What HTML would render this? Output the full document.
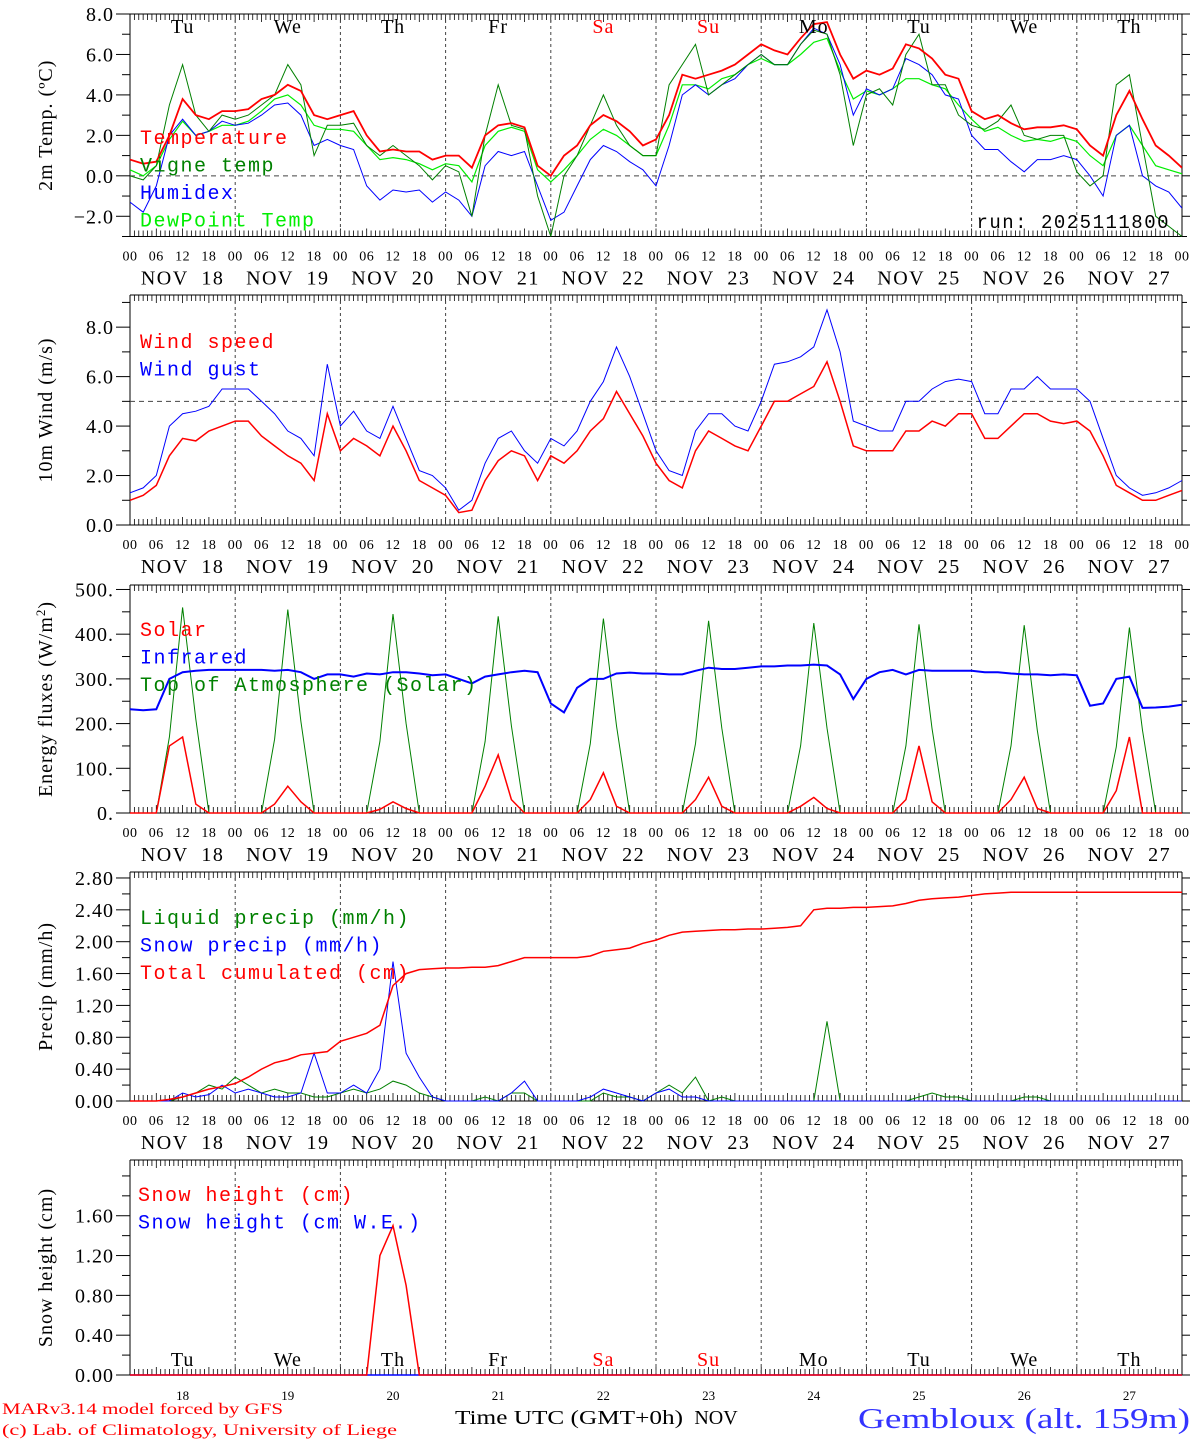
<!DOCTYPE html>
<html><head><meta charset="utf-8"><style>
body{margin:0;background:#fff}
svg{display:block}
text{font-family:"Liberation Serif",serif}
.mono{font-family:"Liberation Mono",monospace;letter-spacing:1.5px}
.pre{white-space:pre}
</style></head><body>
<svg id="c" width="1194" height="1440" viewBox="0 0 1194 1440" xmlns="http://www.w3.org/2000/svg"></svg>
<script>
// ---- data: 3-hourly values, 18 Nov 00 UTC to 28 Nov 00 UTC (81 pts)
const days=["18","19","20","21","22","23","24","25","26","27"];
const weekdays=["Tu","We","Th","Fr","Sa","Su","Mo","Tu","We","Th"];
const hourLabels=["00","06","12","18"];
const tempTicks=[-2,0,2,4,6,8];
const windTicks=[0,2,4,6,8];
const energyTicks=[0,100,200,300,400,500];
const precipTicks=[0,0.4,0.8,1.2,1.6,2.0,2.4,2.8];
const snowTicks=[0,0.4,0.8,1.2,1.6];
const temperature=[0.8,0.6,0.7,2.0,3.8,3.0,2.8,3.2, 3.2,3.3,3.8,4.0,4.5,4.2,3.0,2.8, 3.0,3.2,2.0,1.2,1.3,1.2,1.2,0.8, 1.0,1.0,0.4,2.0,2.5,2.6,2.4,0.5, 0.0,1.0,1.5,2.5,3.0,2.7,2.2,1.5, 1.8,3.0,5.0,4.8,5.0,5.2,5.5,6.0, 6.5,6.2,6.0,6.8,7.5,7.6,6.0,4.8, 5.2,5.0,5.3,6.5,6.3,5.8,5.0,4.8, 3.2,2.8,3.0,2.6,2.3,2.4,2.4,2.5, 2.3,1.5,1.0,3.0,4.2,2.8,1.5,1.0,0.4];
const vigne=[0.0,-0.2,0.5,3.5,5.5,3.0,2.2,3.0, 2.8,3.0,3.5,4.0,5.5,4.5,1.0,2.5, 2.5,2.6,1.5,1.0,1.5,1.0,0.5,-0.2, 0.5,0.2,-2.0,2.0,4.5,2.5,2.3,-1.0, -3.0,0.0,1.0,2.5,4.0,2.5,1.5,1.0, 1.0,4.5,5.5,6.5,4.0,4.5,5.0,5.5, 6.0,5.5,5.5,6.5,7.2,7.0,5.0,1.5, 4.0,4.3,3.5,6.0,7.0,4.5,4.5,3.0, 2.5,2.3,2.7,3.5,2.0,1.8,2.0,2.0, 0.2,-0.5,0.0,4.5,5.0,1.5,-2.0,-2.5,-3.0];
const humidex=[-1.3,-1.8,-0.5,2.0,2.8,2.0,2.2,2.7, 2.5,2.6,3.0,3.5,3.6,3.0,1.5,1.8, 1.5,1.3,-0.5,-1.2,-0.7,-0.8,-0.7,-1.3, -0.8,-1.2,-2.0,0.5,1.2,1.0,1.2,-0.5, -2.2,-1.8,-0.5,0.8,1.5,1.2,0.7,0.3, -0.5,1.5,4.0,4.5,4.0,4.5,4.8,5.5, 6.0,5.5,5.5,6.5,7.3,7.0,5.5,3.0, 4.3,4.0,4.3,5.8,5.5,5.0,4.0,3.8, 2.0,1.3,1.3,0.7,0.2,0.8,0.8,1.0, 0.8,0.0,-1.0,2.0,2.5,0.0,-0.5,-0.8,-1.6];
const dewpoint=[0.3,0.0,0.5,1.8,2.7,2.0,2.2,2.5, 2.5,2.7,3.2,3.8,4.0,3.5,2.5,2.3, 2.3,2.2,1.5,0.8,0.9,0.8,0.6,0.3, 0.6,0.5,-0.3,1.5,2.2,2.4,2.2,0.3, -0.3,0.3,1.0,1.8,2.3,2.0,1.5,1.0, 1.0,2.5,4.5,4.5,4.3,4.8,5.0,5.5, 5.8,5.5,5.5,6.0,6.6,6.8,5.2,3.8, 4.2,4.0,4.3,4.8,4.8,4.5,4.3,3.5, 2.8,2.2,2.4,2.0,1.7,1.8,1.7,1.9, 1.7,1.0,0.5,2.0,2.5,1.5,0.5,0.3,0.1];
const windSpeed=[1.0,1.2,1.6,2.8,3.5,3.4,3.8,4.0, 4.2,4.2,3.6,3.2,2.8,2.5,1.8,4.5, 3.0,3.5,3.2,2.8,4.0,3.0,1.8,1.5, 1.2,0.5,0.6,1.8,2.6,3.0,2.8,1.8, 2.8,2.5,3.0,3.8,4.3,5.4,4.5,3.6, 2.5,1.8,1.5,3.0,3.8,3.5,3.2,3.0, 4.0,5.0,5.0,5.3,5.6,6.6,5.0,3.2, 3.0,3.0,3.0,3.8,3.8,4.2,4.0,4.5, 4.5,3.5,3.5,4.0,4.5,4.5,4.2,4.1, 4.2,3.8,2.8,1.6,1.3,1.0,1.0,1.2,1.4];
const windGust=[1.3,1.5,2.0,4.0,4.5,4.6,4.8,5.5, 5.5,5.5,5.0,4.5,3.8,3.5,2.8,6.5, 4.0,4.6,3.8,3.5,4.8,3.5,2.2,2.0, 1.5,0.6,1.0,2.5,3.5,3.8,3.0,2.5, 3.5,3.2,3.8,5.0,5.8,7.2,6.0,4.5, 3.0,2.2,2.0,3.8,4.5,4.5,4.0,3.8, 5.0,6.5,6.6,6.8,7.2,8.7,7.0,4.2, 4.0,3.8,3.8,5.0,5.0,5.5,5.8,5.9, 5.8,4.5,4.5,5.5,5.5,6.0,5.5,5.5, 5.5,5.0,3.5,2.0,1.5,1.2,1.3,1.5,1.8];
const solar=[0,0,0,150,170,20,0,0, 0,0,0,20,60,25,0,0, 0,0,0,8,25,10,0,0, 0,0,0,60,130,30,0,0, 0,0,0,30,90,15,0,0, 0,0,0,30,80,15,0,0, 0,0,0,15,35,10,0,0, 0,0,0,30,150,25,0,0, 0,0,0,30,80,10,0,0, 0,0,0,50,170,0,0,0,0];
const infrared=[232,230,232,300,315,318,320,320, 320,320,320,318,320,315,300,310, 310,305,312,310,315,315,312,308, 310,300,290,305,310,315,318,315, 245,225,280,300,300,312,314,312, 312,310,310,318,325,322,322,325, 328,328,330,330,332,330,310,255, 300,315,320,310,320,318,318,318, 318,315,315,312,310,310,308,310, 308,240,245,300,305,235,236,238,242];
const toaSolar=[0,0,0,170,460,210,0,0, 0,0,0,165,455,205,0,0, 0,0,0,160,445,200,0,0, 0,0,0,160,440,195,0,0, 0,0,0,155,435,195,0,0, 0,0,0,155,430,190,0,0, 0,0,0,150,425,190,0,0, 0,0,0,150,422,188,0,0, 0,0,0,150,420,185,0,0, 0,0,0,148,415,185,0,0,0];
const liquidPrecip=[0,0,0,0,0.05,0.1,0.2,0.15, 0.3,0.2,0.1,0.15,0.1,0.1,0.05,0.05, 0.1,0.15,0.1,0.15,0.25,0.2,0.1,0.05, 0,0,0,0.05,0,0.1,0.1,0, 0,0,0,0,0.1,0.05,0.05,0, 0.1,0.2,0.1,0.3,0,0.05,0,0, 0,0,0,0,0,1.0,0,0, 0,0,0,0,0.05,0.1,0.05,0.05, 0,0,0,0,0.05,0.05,0,0, 0,0,0,0,0,0,0,0,0];
const snowPrecip=[0,0,0,0,0.1,0.05,0.08,0.2, 0.1,0.15,0.1,0.05,0.05,0.1,0.6,0.1, 0.1,0.2,0.1,0.4,1.75,0.6,0.3,0.05, 0,0,0,0,0,0.1,0.25,0, 0,0,0,0.05,0.15,0.1,0.05,0, 0.1,0.15,0.05,0.05,0,0,0,0, 0,0,0,0,0,0,0,0, 0,0,0,0,0,0,0,0, 0,0,0,0,0,0,0,0, 0,0,0,0,0,0,0,0,0];
const totalCum=[0,0,0,0.02,0.05,0.1,0.15,0.18, 0.22,0.3,0.4,0.48,0.52,0.58,0.6,0.62, 0.75,0.8,0.85,0.95,1.45,1.6,1.65,1.66, 1.67,1.67,1.68,1.68,1.7,1.75,1.8,1.8, 1.8,1.8,1.8,1.82,1.88,1.9,1.92,1.98, 2.02,2.08,2.12,2.13,2.14,2.15,2.15,2.16, 2.16,2.17,2.18,2.2,2.4,2.42,2.42,2.43, 2.43,2.44,2.45,2.48,2.52,2.54,2.55,2.56, 2.58,2.6,2.61,2.62,2.62,2.62,2.62,2.62, 2.62,2.62,2.62,2.62,2.62,2.62,2.62,2.62,2.62];
const snowHeight=[0,0,0,0,0,0,0,0, 0,0,0,0,0,0,0,0, 0,0,0,1.2,1.5,0.9,0,0, 0,0,0,0,0,0,0,0, 0,0,0,0,0,0,0,0, 0,0,0,0,0,0,0,0, 0,0,0,0,0,0,0,0, 0,0,0,0,0,0,0,0, 0,0,0,0,0,0,0,0, 0,0,0,0,0,0,0,0,0];
const snowHeightWE=new Array(81).fill(0);

const svg=document.getElementById('c');
const NS="http://www.w3.org/2000/svg";
const X0=130,X1=1182;
const xs=i=>X0+i*(X1-X0)/80;
const xh=h=>X0+h*(X1-X0)/240;
function el(tag,attrs,parent){const e=document.createElementNS(NS,tag);for(const k in attrs)e.setAttribute(k,attrs[k]);(parent||svg).appendChild(e);return e;}
function txt(s,x,y,size,fill,anchor,cls,parent){const t=el('text',{x:x,y:y,'font-size':size,fill:fill||'#000','text-anchor':anchor||'start'},parent);if(cls)t.setAttribute('class',cls);t.textContent=s;return t;}

function panel(name,top,bot,min,max,ticks,fmt,title,hourLbl){
  const g=el('g',{});
  
  
  const y=v=>bot-(v-min)/(max-min)*(bot-top);
  el('line',{x1:X0,y1:top,x2:X1,y2:top,stroke:'#000'},g);
  el('line',{x1:X0,y1:bot,x2:X1,y2:bot,stroke:'#000'},g);
  el('line',{x1:X0,y1:top,x2:X0,y2:bot,stroke:'#000'},g);
  el('line',{x1:X1,y1:top,x2:X1,y2:bot,stroke:'#000'},g);
  for(let h=0;h<=240;h++){const x=xh(h);const L=h%6==0?8:6;
    el('line',{x1:x,y1:bot,x2:x,y2:bot-L,stroke:'#000','stroke-width':0.8},g);
    el('line',{x1:x,y1:top,x2:x,y2:top+L,stroke:'#000','stroke-width':0.8},g);}
  for(let d=1;d<10;d++){const x=xh(d*24);el('line',{x1:x,y1:top,x2:x,y2:bot,stroke:'#444','stroke-dasharray':'3,3'},g);}
  const step=ticks[1]-ticks[0];
  for(let v=ticks[0]-step;v<=max+1e-6;v+=step/2){if(v<min-1e-6)continue;const yy=y(v);const major=ticks.some(t=>Math.abs(t-v)<1e-6);
    el('line',{x1:X0-(major?14:8),y1:yy,x2:X0,y2:yy,stroke:'#000'},g);
    el('line',{x1:X1,y1:yy,x2:X1+(major?8:5),y2:yy,stroke:'#000'},g);}
  ticks.forEach(t=>{const tt=txt(fmt(t),114,y(t)+7,20,'#000','end',null,g);tt.setAttribute('letter-spacing','1');});
  const yt=txt('',0,0,20,'#000','middle',null,g);yt.innerHTML=title;
  yt.setAttribute('letter-spacing','1');
  yt.setAttribute('transform',`translate(52,${(top+bot)/2}) rotate(-90)`);
  
  
  if(hourLbl){
    for(let d=0;d<=10;d++)for(let k=0;k<4;k++){if(d==10&&k>0)break;const t=txt(hourLabels[k],xh(d*24+k*6),bot+24,14,'#000','middle',null,g);t.setAttribute('letter-spacing','0.5');}
    days.forEach((dd,i)=>{const t=txt('NOV  '+dd,xh(i*24+12),bot+48,20,'#000','middle','pre',g);t.setAttribute('letter-spacing','1.5');});
  }
  return {y,g};
}
function line(p,arr,color,w,name){
  const d=arr.map((v,i)=>(i?'L':'M')+xs(i).toFixed(1)+','+p.y(v).toFixed(1)).join('');
  const e=el('path',{d:d,fill:'none',stroke:color,'stroke-width':w},p.g);
  
  
}
function legend(p,items,x,y0){items.forEach((it,i)=>{const t=txt(it[0],x,y0+i*27.5,20,it[1],'start','mono',p.g);});}

let cid=0;
function clip(p,top,bot){const id='cl'+(cid++);const cp=el('clipPath',{id:id});el('rect',{x:X0,y:top,width:X1-X0,height:bot-top},cp);const g=el('g',{'clip-path':`url(#${id})`},p.g);return {y:p.y,g:g};}

const p1=panel('temperature',14,236.5,-3,8.0,tempTicks,v=>v.toFixed(1).replace('-','\u2212'),'2m Temp. (ºC)',true);
el('line',{x1:X0,y1:p1.y(0),x2:X1,y2:p1.y(0),stroke:'#444','stroke-dasharray':'5,4'},p1.g);
const c1=clip(p1,14,236.5);
line(c1,dewpoint,'#00ee00',1.2,'dewpoint-line');
line(c1,humidex,'#0000ff',1,'humidex-line');
line(c1,vigne,'#008000',1,'vigne-temp-line');
line(c1,temperature,'#ff0000',1.8,'temperature-line');
weekdays.forEach((w,i)=>{const t=txt(w,xh(i*24+12),33,20,(i==4||i==5)?'#f00':'#000','middle',null,p1.g);t.setAttribute('letter-spacing','1');});
legend(p1,[['Temperature','#f00'],['Vigne temp','#008000'],['Humidex','#00f'],['DewPoint Temp','#00ee00']],140,144);
txt('run: 2025111800',1170,228,19,'#000','end','mono',p1.g);

const p2=panel('wind',295,525,0,9.3,windTicks,v=>v.toFixed(1),'10m Wind (m/s)',true);
el('line',{x1:X0,y1:p2.y(5),x2:X1,y2:p2.y(5),stroke:'#444','stroke-dasharray':'5,4'},p2.g);
line(p2,windGust,'#0000ff',1,'wind-gust-line');
line(p2,windSpeed,'#ff0000',1.5,'wind-speed-line');
legend(p2,[['Wind speed','#f00'],['Wind gust','#00f']],140,348);

const p3=panel('energy',585,813,0,510,energyTicks,v=>v+'.','Energy fluxes (W/m<tspan baseline-shift="super" font-size="13">2</tspan>)',true);
line(p3,toaSolar,'#008000',1,'toa-solar-line');
line(p3,infrared,'#0000ff',2,'infrared-line');
line(p3,solar,'#ff0000',1.5,'solar-line');
legend(p3,[['Solar','#f00'],['Infrared','#00f'],['Top of Atmosphere (Solar)','#008000']],140,636);

const p4=panel('precip',872,1101,0,2.875,precipTicks,v=>v.toFixed(2),'Precip (mm/h)',true);
line(p4,liquidPrecip,'#008000',1,'liquid-precip-line');
line(p4,snowPrecip,'#0000ff',1,'snow-precip-line');
line(p4,totalCum,'#ff0000',1.5,'total-cumulated-line');
legend(p4,[['Liquid precip (mm/h)','#008000'],['Snow precip (mm/h)','#00f'],['Total cumulated (cm)','#f00']],140,924);

const p5=panel('snow',1160,1375,0,2.16,snowTicks,v=>v.toFixed(2),'Snow height (cm)',false);
line(p5,snowHeightWE,'#0000ff',1.5,'snow-we-line');
line(p5,snowHeight,'#ff0000',1.5,'snow-height-line');
legend(p5,[['Snow height (cm)','#f00'],['Snow height (cm W.E.)','#00f']],138,1201);
weekdays.forEach((w,i)=>{const t=txt(w,xh(i*24+12),1366,20,(i==4||i==5)?'#f00':'#000','middle',null,p5.g);t.setAttribute('letter-spacing','1');});
days.forEach((d,i)=>txt(d,xh(i*24+12),1400,13,'#000','middle',null,p5.g));

const f1=txt('MARv3.14 model forced by GFS',2,1414,16,'#f00');
f1.setAttribute('textLength','281');
f1.setAttribute('lengthAdjust','spacingAndGlyphs');

const f2=txt('(c) Lab. of Climatology, University of Liege',2,1435,16,'#f00');
f2.setAttribute('textLength','395');
f2.setAttribute('lengthAdjust','spacingAndGlyphs');

const f3=txt('Time UTC (GMT+0h)',455,1424,20,'#000','start');
f3.setAttribute('textLength','228');
f3.setAttribute('lengthAdjust','spacingAndGlyphs');

const f4=txt('NOV',716,1424,20,'#000','middle');

const f5=txt('Gembloux (alt. 159m)',858,1428,28,'#3333ff','start');
f5.setAttribute('textLength','332');
f5.setAttribute('lengthAdjust','spacingAndGlyphs');

</script>
</body></html>
